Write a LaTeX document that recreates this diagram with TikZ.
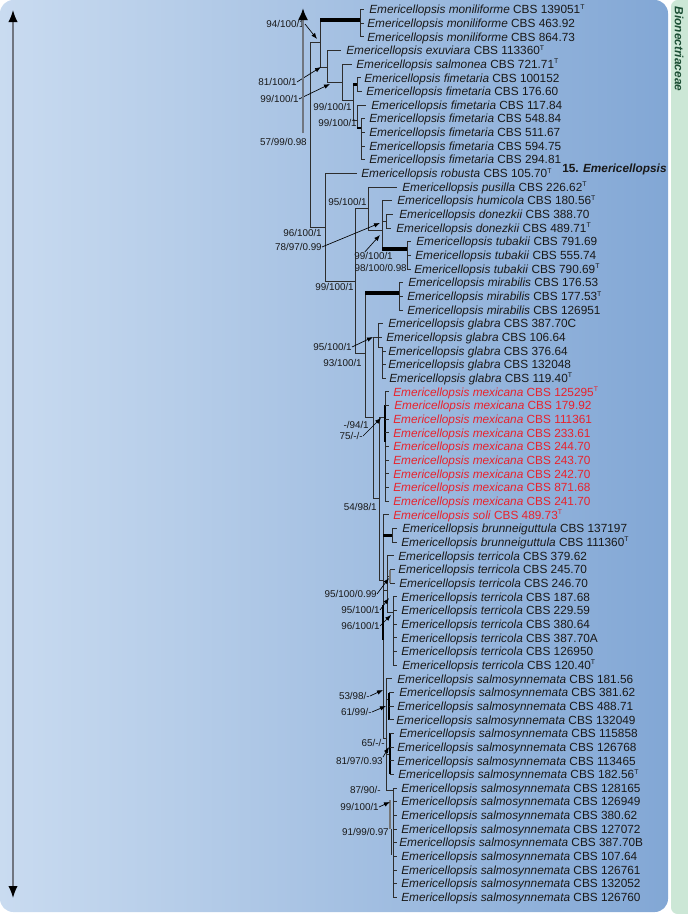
\documentclass[tikz,border=0pt]{standalone}
\usepackage{fontspec}
\setmainfont{Liberation Sans}
\usetikzlibrary{arrows.meta}
\definecolor{bgL}{RGB}{201,219,240}
\definecolor{bgR}{RGB}{130,167,213}
\definecolor{strip}{RGB}{204,231,214}
\definecolor{famtxt}{RGB}{28,78,52}
\definecolor{treeln}{RGB}{45,45,45}
\definecolor{lk}{RGB}{25,25,25}
\definecolor{lr}{RGB}{232,35,45}
\definecolor{arrgray}{RGB}{112,118,128}
\pgfmathdeclarefunction{ly}{1}{\pgfmathparse{9.5+13.66*#1}}
\newcommand{\supT}[1]{\raisebox{3.4pt}{\fontsize{5.2pt}{5.2pt}\selectfont #1}}
\begin{document}
\begin{tikzpicture}[x=0.75pt,y=-0.75pt,
  br/.style={draw=treeln,line width=0.75pt},
  thk/.style={draw=black,line width=2.3pt},
  mthk/.style={draw=black,line width=1.7pt},
  gthk/.style={draw=treeln!65!white,line width=2.2pt},
  leaf/.style={anchor=base west,inner sep=0pt,font=\fontsize{8.87pt}{10pt}\selectfont},
  supp/.style={anchor=base east,inner sep=0pt,font=\fontsize{7.4pt}{9pt}\selectfont,text=lk},
  sarr/.style={-{Latex[length=4.5pt,width=3.4pt]},line width=0.5pt,draw=black},
]
\useasboundingbox (0,0) rectangle (687,914);
% panels
\shade[left color=bgL,right color=bgR,rounded corners=10pt] (0,0) rectangle (668,912);
\fill[strip,rounded corners=5pt] (671,0) rectangle (700,914);
\node[rotate=-90,inner sep=0pt,font=\fontsize{8.9pt}{10pt}\selectfont\bfseries\itshape,text=famtxt] (fam) at (679,49) {Bionectriaceae};
% main double arrow
\coordinate (a1) at (13,10);
\coordinate (a2) at (13,898);
\draw[line width=1.1pt,draw=arrgray,{Latex[length=9pt,width=7pt,color=black]}-{Latex[length=9pt,width=7pt,color=black]}] (a1) -- (a2);

% ---------------- tree ----------------
% root
\draw[br] (310,42) -- (310,227);
\draw[br] (310,42) -- (320,42);
% moniliforme etc
\draw[br] (320,20) -- (320,67);
\draw[thk] (320,20) -- (360,20);
\draw[br] (360,{ly(0)}) -- (360,{ly(2)});
\foreach \k in {0,1,2} \draw[br] (360,{ly(\k)}) -- (364,{ly(\k)});
\draw[br] (320,67) -- (327,67);
\draw[br] (327,{ly(3)}) -- (327,82);
\draw[br] (327,{ly(3)}) -- (341,{ly(3)});
\draw[br] (327,82) -- (342,82);
\draw[br] (342,{ly(4)}) -- (342,100);
\draw[br] (342,{ly(4)}) -- (352,{ly(4)});
\draw[br] (342,100) -- (353,100);
\draw[br] (353,84.5) -- (353,120);
\draw[thk,line width=2pt] (353,84.5) -- (357.5,84.5);
\draw[br] (357,{ly(5)}) -- (357,{ly(6)});
\draw[br] (357,{ly(5)}) -- (361,{ly(5)});
\draw[br] (357,{ly(6)}) -- (362,{ly(6)});
\draw[br] (353,120) -- (357,120);
\draw[br] (357,{ly(7)}) -- (357,128);
\draw[br] (357,{ly(7)}) -- (366,{ly(7)});
\draw[thk,line width=2pt] (357,128) -- (361.5,128);
\draw[br] (361,{ly(8)}) -- (361,{ly(11)});
\foreach \k in {8,...,11} \draw[br] (361,{ly(\k)}) -- (365,{ly(\k)});
% lower half
\draw[br] (310,227) -- (325,227);
\draw[br] (325,{ly(12)}) -- (325,281);
\draw[br] (325,{ly(12)}) -- (357,{ly(12)});
\draw[br] (325,281) -- (355,281);
\draw[br] (355,208) -- (355,353);
\draw[br] (355,208) -- (368,208);
\draw[br] (368,{ly(13)}) -- (368,230);
\draw[br] (368,{ly(13)}) -- (397,{ly(13)});
\draw[br] (368,230) -- (382,230);
\draw[br] (382,{ly(14)}) -- (382,249);
\draw[br] (382,{ly(14)}) -- (392,{ly(14)});
\draw[br] (382,221.2) -- (386,221.2);
\draw[br] (386,{ly(15)}) -- (386,{ly(16)});
\draw[br] (386,{ly(15)}) -- (393,{ly(15)});
\draw[br] (386,{ly(16)}) -- (391,{ly(16)});
\draw[thk] (382,249) -- (407,249);
\draw[br] (407,{ly(17)}) -- (407,{ly(19)});
\foreach \k in {17,18,19} \draw[br] (407,{ly(\k)}) -- (411,{ly(\k)});
\draw[br] (355,353) -- (365,353);
\draw[br] (365,293) -- (365,417);
\draw[thk] (365,293) -- (399,293);
\draw[br] (399,{ly(20)}) -- (399,{ly(22)});
\foreach \k in {20,21,22} \draw[br] (399,{ly(\k)}) -- (403,{ly(\k)});
\draw[br] (365,417) -- (373,417);
% glabra
\draw[br] (373,337) -- (373,498);
\draw[br] (373,337) -- (378,337);
\draw[br] (378,{ly(23)}) -- (378,347);
\draw[br] (378,{ly(23)}) -- (383,{ly(23)});
\draw[br] (378,{ly(24)}) -- (382,{ly(24)});
\draw[br] (378,347) -- (382,347);
\draw[br] (382,347) -- (382,{ly(27)});
\foreach \k in {25,26,27} \draw[br] (382,{ly(\k)}) -- (386,{ly(\k)});
\draw[br] (373,498) -- (379,498);
% mexicana
\draw[br] (379,417) -- (379,580);
\draw[br] (379,417) -- (385,417);
\draw[br] (385,{ly(28)}) -- (385,{ly(36)});
\draw[mthk] (385,405) -- (385,442);
\foreach \k in {28,...,36} \draw[br] (385,{ly(\k)}) -- (389,{ly(\k)});
\draw[br] (379,580) -- (383,580);
% soli, brunneiguttula
\draw[br] (383,{ly(37)}) -- (383,738);
\draw[mthk] (383,605) -- (383,640);
\draw[br] (383,{ly(37)}) -- (389,{ly(37)});
\draw[thk] (383,535.4) -- (392,535.4);
\draw[br] (392,{ly(38)}) -- (392,{ly(39)});
\foreach \k in {38,39} \draw[br] (392,{ly(\k)}) -- (397,{ly(\k)});
% terricola
\draw[br] (383,590) -- (387,590);
\draw[br] (387,{ly(40)}) -- (387,612);
\draw[br] (387,{ly(40)}) -- (394,{ly(40)});
\draw[br] (387,576) -- (390,576);
\draw[gthk] (390,{ly(41)}) -- (390,{ly(42)});
\foreach \k in {41,42} \draw[br] (390,{ly(\k)}) -- (395,{ly(\k)});
\draw[br] (387,612) -- (393,612);
\draw[br] (393,{ly(43)}) -- (393,{ly(48)});
\foreach \k in {43,...,48} \draw[br] (393,{ly(\k)}) -- (397,{ly(\k)});
% salmosynnemata
\draw[br] (383,738) -- (386,738);
\draw[br] (386,{ly(49)}) -- (386,790);
\draw[br] (386,{ly(49)}) -- (392,{ly(49)});
\draw[br] (386,699) -- (389,699);
\draw[mthk] (389,{ly(50)}) -- (389,{ly(52)});
\foreach \k in {50,51,52} \draw[br] (389,{ly(\k)}) -- (394,{ly(\k)});
\draw[br] (386,754) -- (390,754);
\draw[mthk] (390,{ly(53)}) -- (390,{ly(56)});
\foreach \k in {53,...,56} \draw[br] (390,{ly(\k)}) -- (394,{ly(\k)});
\draw[br] (386,790) -- (393,790);
\draw[br] (393,{ly(57)}) -- (393,{ly(65)});
\draw[gthk] (390,800) -- (390,829);
\draw[br] (391,829) -- (391,855);
\foreach \k in {57,...,65} \draw[br] (393,{ly(\k)}) -- (397,{ly(\k)});

% ---------------- leaves ----------------
\foreach \i/\xx/\spn/\cb/\sx/\col in {
0/369/moniliforme/139051/T/lk, 1/367/moniliforme/463.92//lk, 2/367/moniliforme/864.73//lk,
3/346/exuviara/113360/T/lk, 4/356/salmonea/721.71/T/lk,
5/364/fimetaria/100152//lk, 6/366/fimetaria/176.60//lk, 7/371/fimetaria/117.84//lk,
8/369/fimetaria/548.84//lk, 9/369/fimetaria/511.67//lk, 10/369/fimetaria/594.75//lk,
11/369/fimetaria/294.81//lk, 12/361/robusta/105.70/T/lk, 13/402/pusilla/226.62/T/lk,
14/397/humicola/180.56/T/lk, 15/399/donezkii/388.70//lk, 16/396/donezkii/489.71/T/lk,
17/416/tubakii/791.69//lk, 18/415/tubakii/555.74//lk, 19/414/tubakii/790.69/T/lk,
20/408/mirabilis/176.53//lk, 21/407/mirabilis/177.53/T/lk, 22/407/mirabilis/126951//lk,
23/388/glabra/387.70C//lk, 24/386/glabra/106.64//lk, 25/388/glabra/376.64//lk,
26/388/glabra/132048//lk, 27/389/glabra/119.40/T/lk,
28/393/mexicana/125295/T/lr, 29/394/mexicana/179.92//lr, 30/393/mexicana/111361//lr,
31/393/mexicana/233.61//lr, 32/393/mexicana/244.70//lr, 33/393/mexicana/243.70//lr,
34/393/mexicana/242.70//lr, 35/393/mexicana/871.68//lr, 36/393/mexicana/241.70//lr,
37/393/soli/489.73/T/lr,
38/402/brunneiguttula/137197//lk, 39/401/brunneiguttula/111360/T/lk,
40/398/terricola/379.62//lk, 41/398/terricola/245.70//lk, 42/399/terricola/246.70//lk,
43/401/terricola/187.68//lk, 44/401/terricola/229.59//lk, 45/401/terricola/380.64//lk,
46/401/terricola/387.70A//lk, 47/401/terricola/126950//lk, 48/402/terricola/120.40/T/lk,
49/397/salmosynnemata/181.56//lk, 50/399/salmosynnemata/381.62//lk,
51/397/salmosynnemata/488.71//lk, 52/396/salmosynnemata/132049//lk,
53/399/salmosynnemata/115858//lk, 54/397/salmosynnemata/126768//lk,
55/397/salmosynnemata/113465//lk, 56/398/salmosynnemata/182.56/T/lk,
57/401/salmosynnemata/128165//lk, 58/401/salmosynnemata/126949//lk,
59/401/salmosynnemata/380.62//lk, 60/401/salmosynnemata/127072//lk,
61/399/salmosynnemata/387.70B//lk, 62/401/salmosynnemata/107.64//lk,
63/401/salmosynnemata/126761//lk, 64/401/salmosynnemata/132052//lk,
65/401/salmosynnemata/126760//lk}
{
  \node[leaf,text=\col] (L\i) at (\xx,{ly(\i)+4.2}) {\textit{Emericellopsis \spn} CBS \cb\supT{\sx}};
}
\node[leaf,font=\fontsize{8.87pt}{10pt}\selectfont\bfseries,text=lk] (genus) at (562,172.2) {15. \textit{Emericellopsis}};

% ---------------- support values ----------------
\node[supp] (s1) at (305,27.5) {94/100/1};
\node[supp] (s2) at (297,85.5) {81/100/1};
\node[supp] (s3) at (299,102.5) {99/100/1};
\node[supp] (s4) at (352,110.5) {99/100/1};
\node[supp] (s5) at (357,126.5) {99/100/1};
\node[supp] (s6) at (307,145.5) {57/99/0.98};
\node[supp] (s7) at (367,205.5) {95/100/1};
\node[supp] (s8) at (322,236.5) {96/100/1};
\node[supp] (s9) at (322,250.5) {78/97/0.99};
\node[supp] (s10) at (393,259.5) {99/100/1};
\node[supp] (s11) at (407,271.5) {98/100/0.98};
\node[supp] (s12) at (354,290.5) {99/100/1};
\node[supp] (s13) at (352,350.5) {95/100/1};
\node[supp] (s14) at (362,366.5) {93/100/1};
\node[supp] (s15) at (369,428.5) {-/94/1};
\node[supp] (s16) at (363,439.5) {75/-/-};
\node[supp] (s17) at (377,510.5) {54/98/1};
\node[supp] (s18) at (377,597.5) {95/100/0.99};
\node[supp] (s19) at (380,613.5) {95/100/1};
\node[supp] (s20) at (380,629.5) {96/100/1};
\node[supp] (s21) at (370,699.5) {53/98/-};
\node[supp] (s22) at (372,715.5) {61/99/-};
\node[supp] (s23) at (385,746.5) {65/-/-};
\node[supp] (s24) at (383,764.5) {81/97/0.93};
\node[supp] (s25) at (381,793.5) {87/90/-};
\node[supp] (s26) at (379,810.5) {99/100/1};
\node[supp] (s27) at (389,835.5) {91/99/0.97};

% arrow targets
\coordinate (t1) at (317,39);
\coordinate (t2) at (321,67);
\coordinate (t3) at (330,84);
\coordinate (t9) at (380,223);
\coordinate (t10) at (380,235);
\coordinate (t13) at (373,337);
\coordinate (t16) at (381,418);
\coordinate (t18) at (389,578);
\coordinate (t19) at (389,598);
\coordinate (t20) at (391,615);
\coordinate (t21) at (383,690);
\coordinate (t22) at (386,706);
\coordinate (t24) at (389,747);
\coordinate (t26) at (390,802);
\draw[sarr] (s1.east) -- (t1);
\draw[sarr] (s2.east) -- (t2);
\draw[sarr] (s3.east) -- (t3);
\draw[sarr] (s9.east) -- (t9);
\draw[sarr] ([xshift=8pt]s10.north west) -- (t10);
\draw[sarr] (s13.east) -- (t13);
\draw[sarr] (s16.east) -- (t16);
\draw[sarr] (s18.east) -- (t18);
\draw[sarr] (s19.east) -- (t19);
\draw[sarr] (s20.east) -- (t20);
\draw[sarr] (s21.east) -- (t21);
\draw[sarr] (s22.east) -- (t22);
\draw[sarr] (s24.north east) -- (t24);
\draw[sarr] (s26.east) -- (t26);
% gray arrow from 57/99/0.98
\coordinate (g1) at (303,133);
\coordinate (g2) at (303,8);
\draw[line width=1.6pt,draw=arrgray,-{Latex[length=9pt,width=7.5pt,color=black]}] (g1) -- (g2);
\end{tikzpicture}
\end{document}
